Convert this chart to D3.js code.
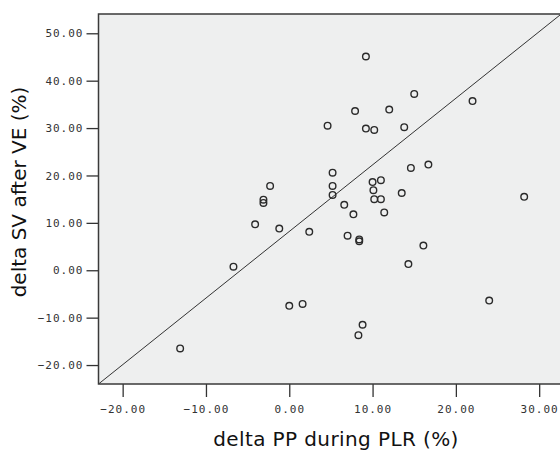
<!DOCTYPE html>
<html>
<head>
<meta charset="utf-8">
<script src="https://cdn.jsdelivr.net/npm/d3@7"></script>
<style>
  body { margin: 0; background: #fff; }
  .tick text { font-family: "DejaVu Sans Mono", monospace; font-size: 11px; letter-spacing: 1px; fill: #333; }
  .tick line { stroke: #333; stroke-width: 1.3px; }
  .title { font-family: "DejaVu Sans", sans-serif; font-size: 20px; fill: #111; }
</style>
</head>
<body>
<svg class="chart"></svg>
<script>
/*Values*/
const ppDelta = [-13.1, -6.7, -2.3, -3.1, -3.1, -4.1, -1.2, 9.2, 15.0, 7.9, 12.0, 4.6, 9.2, 10.2,
  13.8, 22.0, 5.2, 5.2, 5.2, 6.6, 7.7, 2.4, 7.0, 8.4, 8.4, 10.0, 11.0, 10.1, 10.2, 11.0,
  11.4, 13.5, 14.6, 16.7, 16.1, 14.3, 28.2, 24.0, 0.0, 1.6, 8.8, 8.3]
const svDelta = [-16.5, 0.75, 17.8, 14.9, 14.2, 9.7, 8.8, 45.1, 37.2, 33.6, 33.9, 30.5, 29.9, 29.6,
  30.2, 35.7, 20.6, 17.8, 15.9, 13.8, 11.8, 8.1, 7.3, 6.5, 6.1, 18.6, 19.0, 16.9, 15.0, 15.0,
  12.2, 16.3, 21.6, 22.3, 5.2, 1.3, 15.5, -6.4, -7.5, -7.1, -11.5, -13.7]

/*Reference line ends*/
const lineX = [-22.9, 33.1]
const lineY = [-24.0, 54.7]

const xTicks = [-20, -10, 0, 10, 20, 30]
const yTicks = [-20, -10, 0, 10, 20, 30, 40, 50]

const width = 560, height = 450
const plot = { left: 98.5, top: 14, right: 565, bottom: 384 }

var chart = d3.select(".chart")
    .attr("width", width)
    .attr("height", height)

var x = d3.scaleLinear().domain([-22.9, 33.1]).range([plot.left, plot.right])
var y = d3.scaleLinear().domain([-24.0, 54.07]).range([plot.bottom, plot.top])

/*Plot background*/
chart.append("rect")
    .attr("x", plot.left)
    .attr("y", plot.top)
    .attr("width", plot.right - plot.left)
    .attr("height", plot.bottom - plot.top)
    .attr("fill", "#eeefef")

chart.append("clipPath")
    .attr("id", "clip")
  .append("rect")
    .attr("x", plot.left)
    .attr("y", plot.top)
    .attr("width", plot.right - plot.left)
    .attr("height", plot.bottom - plot.top)

/*Reference line*/
chart.append("line")
    .attr("clip-path", "url(#clip)")
    .attr("x1", x(lineX[0])).attr("y1", y(lineY[0]))
    .attr("x2", x(lineX[1])).attr("y2", y(lineY[1]))
    .attr("stroke", "#333")
    .attr("stroke-width", 1)

/*Points*/
chart.append("g")
  .selectAll("circle")
  .data(ppDelta)
  .enter()
  .append("circle")
    .attr("cx", (d) => x(d))
    .attr("cy", (d, i) => y(svDelta[i]))
    .attr("r", 3.3)
    .attr("fill", "none")
    .attr("stroke", "#2a2a2a")
    .attr("stroke-width", 1.4)

var fmt = d3.format(".2f")

/*Axes*/
var yAxis = chart.append("g")
    .attr("transform", "translate(" + plot.left + ",0)")
    .call(d3.axisLeft(y).tickValues(yTicks).tickFormat(fmt).tickSize(12).tickPadding(3).tickSizeOuter(0))
yAxis.select(".domain").remove()

var xAxis = chart.append("g")
    .attr("transform", "translate(0," + plot.bottom + ")")
    .call(d3.axisBottom(x).tickValues(xTicks).tickFormat(fmt).tickSize(13).tickPadding(8).tickSizeOuter(0))
xAxis.select(".domain").remove()

/*Frame*/
chart.append("rect")
    .attr("x", plot.left)
    .attr("y", plot.top)
    .attr("width", plot.right - plot.left)
    .attr("height", plot.bottom - plot.top)
    .attr("fill", "none")
    .attr("stroke", "#3a3a3a")
    .attr("stroke-width", 1.5)

/*Axis titles*/
chart.append("text")
    .attr("class", "title")
    .attr("x", 336)
    .attr("y", 446)
    .attr("text-anchor", "middle")
    .style("letter-spacing", "0.4px")
    .text("delta PP during PLR (%)")

chart.append("text")
    .attr("class", "title")
    .attr("transform", "translate(26," + 192 + ") rotate(-90)")
    .attr("text-anchor", "middle")
    .text("delta SV after VE (%)")
</script>
</body>
</html>
